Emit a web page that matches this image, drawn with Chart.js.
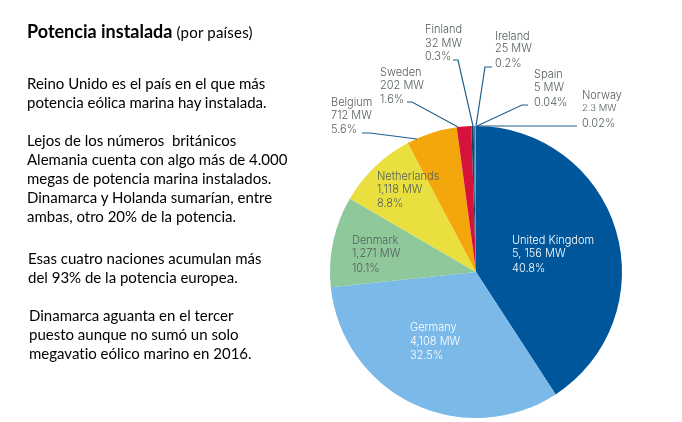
<!DOCTYPE html>
<html>
<head>
<meta charset="utf-8">
<script src="https://cdn.jsdelivr.net/npm/chart.js@4"></script>
<style>
html, body { margin: 0; padding: 0; background: #fff; }
#wrap { position: relative; width: 682px; height: 422px; overflow: hidden; }
#myChart { position: absolute; left: 0; top: 0; }
.txt { position: absolute; font-family: Lato, sans-serif; font-size: 15px; line-height: 19px; color: #000; white-space: nowrap; font-variant-ligatures: none; }
.title { font-size: 15px; letter-spacing: 0.2px; }
.title b { font-size: 18px; letter-spacing: 0; }
</style>
</head>
<body>
<div id="wrap">
    <canvas id="myChart" width="682" height="422"></canvas>
    <div class="txt title" style="left:27px;top:22px"><b>Potencia instalada</b> (por países)</div>
    <div class="txt" style="left:27px;top:74px">Reino Unido es el país en el que más<br>potencia eólica marina hay instalada.</div>
    <div class="txt" style="left:27px;top:131px">Lejos de los números &nbsp;británicos<br>Alemania cuenta con algo más de 4.000<br>megas de potencia marina instalados.<br>Dinamarca y Holanda sumarían, entre<br>ambas, otro 20% de la potencia.</div>
    <div class="txt" style="left:28px;top:249px">Esas cuatro naciones acumulan más<br>del 93% de la potencia europea.</div>
    <div class="txt" style="left:29px;top:306px">Dinamarca aguanta en el tercer<br>puesto aunque no sumó un solo<br>megavatio eólico marino en 2016.</div>
</div>
<script>
const countries = ['United Kingdom', 'Germany', 'Denmark', 'Netherlands', 'Belgium', 'Sweden', 'Finland', 'Ireland', 'Spain', 'Norway']
const megawatts = [5156, 4108, 1271, 1118, 712, 202, 32, 25, 5, 2.3]
const mwLabels = ['5, 156 MW', '4,108 MW', '1,271 MW', '1,118 MW', '712 MW', '202 MW', '32 MW', '25 MW', '5 MW', '2.3 MW']
const shares = ['40.8%', '32.5%', '10.1%', '8.8%', '5.6%', '1.6%', '0.3%', '0.2%', '0.04%', '0.02%']
const colors = ['#00569b', '#7ab9e8', '#8fc89b', '#e9e03f', '#f4a70b', '#d8133b', '#1c3f66', '#2a7f9e', '#4b8fa8', '#5f9fb5']

// label block position (left x, y of each of the 3 lines) and text colour
const labelSpots = [
    { x: 512, y: [241, 254, 269], color: '#fff' },
    { x: 410, y: [328, 342, 356], color: '#fff' },
    { x: 352, y: [241, 254, 269], color: '#55605a' },
    { x: 377, y: [177, 190, 204], color: '#55605a' },
    { x: 331, y: [103, 116, 130], color: '#55605a' },
    { x: 380, y: [73, 86, 100], color: '#55605a' },
    { x: 425, y: [30, 44, 57], color: '#55605a' },
    { x: 495, y: [37, 49, 64], color: '#55605a' },
    { x: 534, y: [75, 88, 103], color: '#55605a' },
    { x: 582, y: [96, 108, 124], color: '#55605a' }
]

// leader lines, from the text to the slice, only for the small slices
const leaders = {
    4: [[362, 133], [370, 133], [417, 139]],
    5: [[407, 102], [412, 102], [458, 127]],
    6: [[453, 60], [458, 60], [473, 126]],
    7: [[492, 67], [485, 67], [476, 126]],
    8: [[528, 105], [522, 105], [477, 126]],
    9: [[577, 126], [477, 126]]
}

const pieLabels = {
    id: 'pieLabels',
    afterDraw(chart) {
        const c = chart.ctx
        c.save()
        c.strokeStyle = '#1f5f8c'
        c.lineWidth = 1.2
        Object.values(leaders).forEach(pts => {
            c.beginPath()
            pts.forEach((p, i) => i ? c.lineTo(p[0], p[1]) : c.moveTo(p[0], p[1]))
            c.stroke()
        })
        c.textBaseline = 'middle'
        countries.forEach((name, i) => {
            const s = labelSpots[i]
            c.fillStyle = s.color
            c.font = '300 11px Inter, sans-serif'
            c.fillText(name, s.x, s.y[0])
            // Norway's MW line is set smaller in the original
            if (name === 'Norway') c.font = '300 9.5px Inter, sans-serif'
            c.fillText(mwLabels[i], s.x, s.y[1])
            c.font = '300 11px Inter, sans-serif'
            c.fillText(shares[i], s.x, s.y[2])
        })
        c.restore()
    }
}

new Chart(document.getElementById('myChart'), {
    type: 'pie',
    data: {
        labels: countries,
        datasets: [{
            data: megawatts,
            backgroundColor: colors,
            borderWidth: 0
        }]
    },
    options: {
        responsive: false,
        animation: false,
        layout: { padding: { left: 330, right: 60, top: 126, bottom: 4 } },
        plugins: { legend: { display: false }, tooltip: { enabled: false } }
    },
    plugins: [pieLabels]
})
</script>
</body>
</html>
